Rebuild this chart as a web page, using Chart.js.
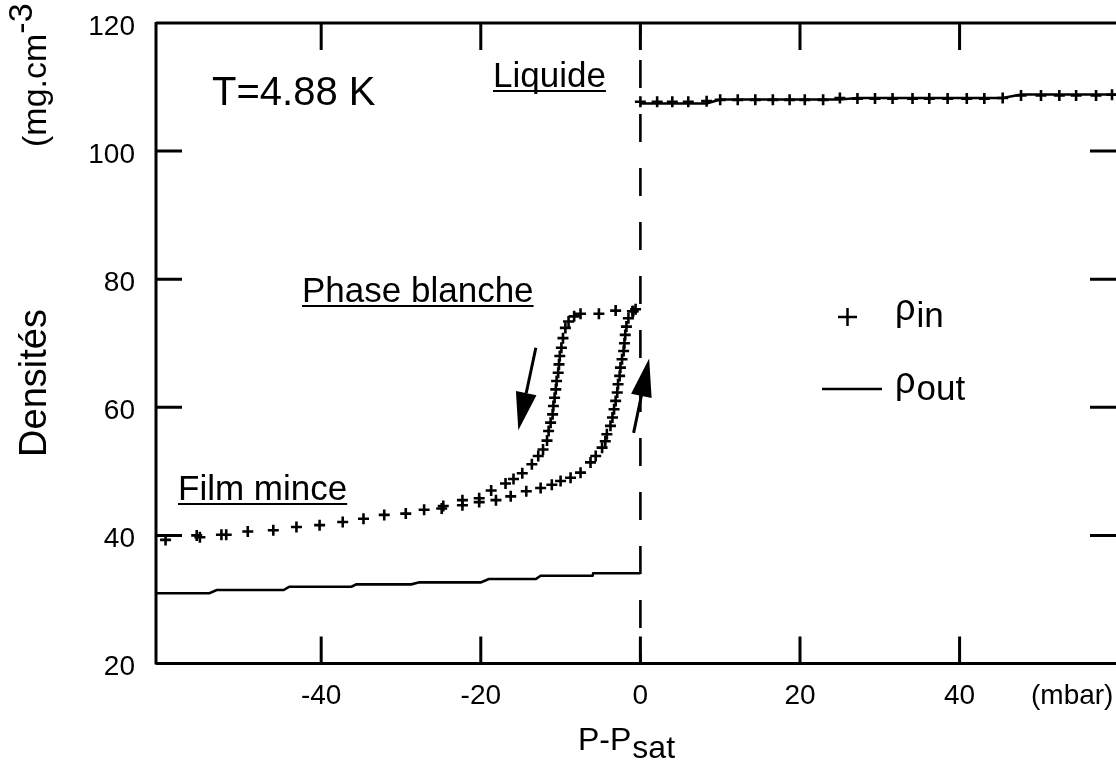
<!DOCTYPE html>
<html>
<head>
<meta charset="utf-8">
<script src="https://cdn.jsdelivr.net/npm/chart.js@4.4.1/dist/chart.umd.min.js"></script>
<style>
  html, body { margin: 0; padding: 0; background: #fff; }
  #wrap { width: 1116px; height: 780px; position: relative; }
</style>
</head>
<body>
<div id="wrap"><canvas id="densityChart"></canvas></div>
<script>
// axis ticks
const xTicks = [-40, -20, 0, 20, 40];
const yTicks = [20, 40, 60, 80, 100, 120];

// rho_in, thin film part (both branches together)
const filmX = [-59.5, -55.6, -55.2, -52.5, -51.9, -49.2, -46.0, -43.1, -40.2, -37.3,
  -34.7, -32.1, -29.4, -27.1, -24.7, -24.9, -22.3, -22.3, -20.2, -20.2];
const filmY = [39.3, 40.0, 39.7, 40.1, 40.1, 40.6, 40.8, 41.3, 41.6, 42.1,
  42.6, 43.2, 43.4, 44.0, 44.6, 44.2, 45.5, 44.7, 45.8, 45.2];

// rho_in, desorption branch (left loop side)
const desX = [-18.7, -16.9, -15.9, -14.8, -13.6, -12.8, -12.2, -11.7, -11.5, -11.25,
  -11.0, -10.9, -10.75, -10.6, -10.5, -10.3, -10.2, -10.1, -9.9, -9.7,
  -9.4, -9.0, -8.3, -7.5, -5.2, -3.1, -0.9];
const desY = [47.0, 48.1, 48.8, 49.7, 51.1, 52.4, 53.4, 54.8, 56.3, 57.6,
  58.9, 60.2, 61.5, 62.8, 64.1, 65.4, 66.7, 68.0, 69.3, 70.8,
  72.4, 73.4, 74.2, 74.6, 74.6, 75.1, 75.0];

// rho_in, adsorption branch (right loop side)
const adsX = [-18.1, -16.25, -14.3, -12.5, -11.1, -10.0, -8.75, -7.5, -6.25, -5.6,
  -4.8, -4.4, -4.2, -3.75, -3.5, -3.3, -3.1, -2.9, -2.8, -2.6,
  -2.5, -2.3, -2.1, -2.0, -1.9, -1.75, -1.5, -1.0, -0.6];
const adsY = [45.5, 46.1, 46.9, 47.4, 47.9, 48.5, 49.0, 49.8, 51.4, 52.4,
  53.7, 54.7, 55.8, 57.1, 58.4, 59.7, 61.0, 62.3, 63.6, 64.9,
  66.2, 67.5, 68.8, 70.0, 71.3, 72.6, 73.9, 75.0, 75.3];

// rho_in, liquid
const liqX = [0, 2.1, 4, 6, 8.3, 10, 12.2, 14.4, 16.6, 18.7, 20.6, 22.9, 25, 27.2,
  29.4, 31.6, 34.1, 36.2, 38.5, 40.9, 43.1, 45.4, 47.7, 50.2, 52.5, 54.6, 57.1, 59.1];
const liqY = [107.7, 107.7, 107.7, 107.7, 107.8, 108.0, 108.0, 108.0, 108.0, 108.0, 108.0, 108.0, 108.3, 108.2,
  108.2, 108.2, 108.2, 108.2, 108.2, 108.2, 108.2, 108.3, 108.7, 108.7, 108.7, 108.7, 108.7, 108.8];

// rho_out (stepped), null = break at the transition
const outX = [-60.7, -54, -53.1, -44.7, -44, -36.2, -35.6, -28.7, -27.7, -20, -19, -13.1, -12.5, -6, -5.9, 0,
  0, 0, 8.3, 10, 25, 27.2, 45.4, 47.7, 59.6];
const outY = [30.96, 30.96, 31.47, 31.47, 31.99, 31.99, 32.36, 32.36, 32.67, 32.67, 33.19, 33.19, 33.7, 33.7, 34.08, 34.08,
  null, 107.42, 107.42, 108.05, 108.05, 108.3, 108.3, 108.83, 108.83];

const ink = "#000";
const font = "'Liberation Sans', Arial, Helvetica, sans-serif";

function pts(xs, ys) {
  return xs.map((x, i) => ({ x: x, y: ys[i] }));
}

function arrow(ctx, x0, y0, x1, y1) {
  const ang = Math.atan2(y1 - y0, x1 - x0);
  const len = 38, hw = 10.5;
  const bx = x1 - len * Math.cos(ang), by = y1 - len * Math.sin(ang);
  ctx.beginPath();
  ctx.moveTo(x0, y0);
  ctx.lineTo(bx, by);
  ctx.stroke();
  ctx.beginPath();
  ctx.moveTo(x1, y1);
  ctx.lineTo(bx + hw * Math.sin(ang), by - hw * Math.cos(ang));
  ctx.lineTo(bx - hw * Math.sin(ang), by + hw * Math.cos(ang));
  ctx.closePath();
  ctx.fill();
}

function underlined(ctx, text, x, y) {
  ctx.fillText(text, x, y);
  const w = ctx.measureText(text).width;
  ctx.fillRect(x, y + 3, w, 2);
}

// no automatic padding for overflowing tick labels
function noPad(s) {
  s.paddingTop = 0;
  s.paddingBottom = 0;
  s.paddingLeft = 0;
  s.paddingRight = 0;
}

const decorations = {
  id: "decorations",
  afterDraw(chart) {
    const { ctx, chartArea: a, scales } = chart;
    const sx = scales.x, sy = scales.y;
    ctx.save();
    ctx.strokeStyle = ink;
    ctx.fillStyle = ink;
    ctx.lineWidth = 3;

    // frame + inward ticks
    ctx.beginPath();
    ctx.moveTo(a.left, a.top); ctx.lineTo(a.right, a.top);
    ctx.moveTo(a.left, a.top - 1); ctx.lineTo(a.left, a.bottom + 1);
    ctx.moveTo(a.left, a.bottom); ctx.lineTo(a.right, a.bottom);
    xTicks.forEach(v => {
      const p = sx.getPixelForValue(v);
      ctx.moveTo(p, a.top); ctx.lineTo(p, a.top + 27);
      ctx.moveTo(p, a.bottom); ctx.lineTo(p, a.bottom - 27);
    });
    yTicks.slice(1, -1).forEach(v => {
      const p = sy.getPixelForValue(v);
      ctx.moveTo(a.left, p); ctx.lineTo(a.left + 26, p);
      ctx.moveTo(a.right - 26, p); ctx.lineTo(a.right, p);
    });
    ctx.stroke();

    // arrows
    arrow(ctx, sx.getPixelForValue(-13.1), sy.getPixelForValue(69.3),
      sx.getPixelForValue(-15.3), sy.getPixelForValue(56.4));
    arrow(ctx, sx.getPixelForValue(-0.85), sy.getPixelForValue(56.0),
      sx.getPixelForValue(1.1), sy.getPixelForValue(67.6));

    // annotations
    ctx.textBaseline = "alphabetic";
    ctx.textAlign = "left";
    ctx.font = "40px " + font;
    ctx.fillText("T=4.88 K", 212, 105);
    ctx.font = "35px " + font;
    underlined(ctx, "Liquide", 493, 87);
    underlined(ctx, "Phase blanche", 302, 302);
    underlined(ctx, "Film mince", 178, 500);

    // legend
    ctx.lineWidth = 2.5;
    ctx.beginPath();
    ctx.moveTo(838, 317); ctx.lineTo(857, 317);
    ctx.moveTo(847.5, 308); ctx.lineTo(847.5, 326);
    ctx.moveTo(822, 389); ctx.lineTo(882, 389);
    ctx.stroke();
    ctx.font = "36px " + font;
    ctx.fillText("\u03c1", 895, 320);
    let w = ctx.measureText("\u03c1").width;
    ctx.font = "35px " + font;
    ctx.fillText("in", 895 + w + 1, 327);
    ctx.font = "36px " + font;
    ctx.fillText("\u03c1", 895, 393);
    ctx.font = "35px " + font;
    ctx.fillText("out", 895 + w + 1, 400);

    // x unit and title
    ctx.font = "28px " + font;
    ctx.textBaseline = "middle";
    ctx.fillText("(mbar)", 1031, 696);
    ctx.textBaseline = "alphabetic";
    ctx.font = "32px " + font;
    ctx.fillText("P-P", 578, 750);
    w = ctx.measureText("P-P").width;
    ctx.fillText("sat", 578 + w + 1, 758);

    // y title
    ctx.translate(46, 0);
    ctx.rotate(-Math.PI / 2);
    ctx.textAlign = "center";
    ctx.font = "38px " + font;
    ctx.fillText("Densit\u00e9s", -383, 0);
    ctx.textAlign = "left";
    ctx.font = "34px " + font;
    ctx.fillText("(mg.cm", -147, 0);
    w = ctx.measureText("(mg.cm").width;
    ctx.fillText("-3", -147 + w, -14);
    ctx.restore();
  }
};

new Chart(document.getElementById("densityChart").getContext("2d"), {
  type: "scatter",
  data: {
    datasets: [
      {
        label: "\u03c1in",
        data: pts(filmX.concat(desX, adsX, liqX), filmY.concat(desY, adsY, liqY)),
        showLine: false,
        pointStyle: "cross",
        pointRadius: 5.5,
        pointBorderWidth: 2.6,
        borderColor: ink,
        backgroundColor: ink,
      },
      {
        label: "\u03c1out",
        data: pts(outX, outY),
        showLine: true,
        spanGaps: false,
        pointRadius: 0,
        borderWidth: 2.6,
        borderColor: ink,
        tension: 0,
      },
      {
        label: "Psat",
        data: pts([0, 0], [120, 20]),
        showLine: true,
        pointRadius: 0,
        borderWidth: 2.6,
        borderColor: ink,
        borderDash: [28, 26],
        borderDashOffset: 17,
      },
    ],
  },
  options: {
    responsive: true,
    maintainAspectRatio: false,
    animation: false,
    layout: { autoPadding: false, padding: { top: 23, right: 0, bottom: 0, left: 0 } },
    plugins: { legend: { display: false }, tooltip: { enabled: false } },
    scales: {
      x: {
        type: "linear",
        min: -60.7,
        max: 59.6,
        afterBuildTicks: s => { s.ticks = xTicks.map(v => ({ value: v })); },
        afterFit: s => { s.height = 116.5; noPad(s); },
        grid: { display: false, drawTicks: false },
        border: { display: false },
        ticks: { color: ink, padding: 16, maxRotation: 0, font: { family: font, size: 28 } },
      },
      y: {
        type: "linear",
        min: 20,
        max: 120,
        afterBuildTicks: s => { s.ticks = yTicks.map(v => ({ value: v })); },
        afterFit: s => { s.width = 156; noPad(s); },
        grid: { display: false, drawTicks: false },
        border: { display: false },
        ticks: { color: ink, padding: 21, labelOffset: 4, font: { family: font, size: 28 } },
      },
    },
  },
  plugins: [decorations],
});
</script>
</body>
</html>
